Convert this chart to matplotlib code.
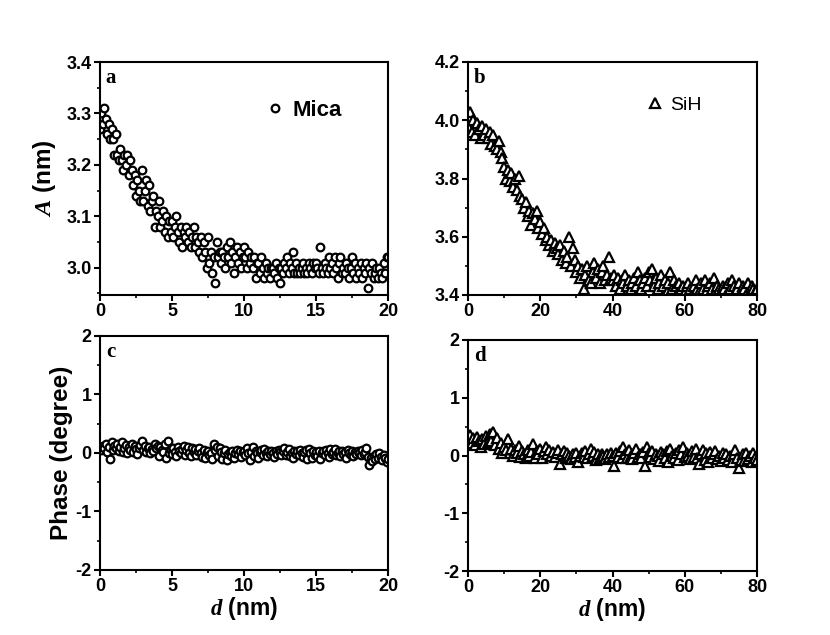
import numpy as np
import matplotlib
matplotlib.use("Agg")
import matplotlib.pyplot as plt
from matplotlib.ticker import MultipleLocator, AutoMinorLocator, FormatStrFormatter

plt.rcParams['font.family'] = ['Liberation Sans', 'DejaVu Sans']
plt.rcParams['font.weight'] = 'bold'
plt.rcParams['axes.unicode_minus'] = False
plt.rcParams['mathtext.fontset'] = 'custom'
plt.rcParams['mathtext.it'] = 'Liberation Serif:italic'
plt.rcParams['mathtext.rm'] = 'Liberation Sans:bold'

# ---------------- data ----------------
mica_d = [round(i * 0.1, 1) for i in range(201)]
mica_amp = [
    3.27, 3.30, 3.28, 3.31, 3.29, 3.26, 3.28, 3.25, 3.27, 3.25,
    3.22, 3.26, 3.22, 3.21, 3.23, 3.21, 3.19, 3.22, 3.20, 3.22,
    3.18, 3.21, 3.19, 3.16, 3.18, 3.14, 3.17, 3.15, 3.13, 3.19,
    3.13, 3.15, 3.17, 3.12, 3.16, 3.11, 3.13, 3.14, 3.08, 3.11,
    3.10, 3.13, 3.08, 3.09, 3.11, 3.07, 3.10, 3.06, 3.09, 3.07,
    3.09, 3.06, 3.08, 3.10, 3.07, 3.05, 3.08, 3.04, 3.07, 3.06,
    3.08, 3.05, 3.07, 3.04, 3.06, 3.08, 3.04, 3.06, 3.05, 3.03,
    3.06, 3.02, 3.05, 3.03, 3.00, 3.06, 3.01, 3.03, 2.99, 3.02,
    2.97, 3.05, 3.02, 3.03, 3.01, 3.03, 3.02, 3.00, 3.04, 3.02,
    3.05, 3.01, 3.03, 2.99, 3.02, 3.04, 3.01, 3.03, 3.00, 3.02,
    3.04, 3.02, 3.00, 3.03, 3.01, 3.02, 3.00, 3.02, 2.98, 3.01,
    3.01, 2.99, 3.02, 3.00, 2.98, 3.01, 2.99, 3.00, 2.98, 3.00,
    3.00, 2.99, 3.01, 2.98, 3.00, 2.97, 3.00, 2.99, 3.01, 3.00,
    3.02, 2.99, 3.01, 3.00, 3.03, 2.99, 3.01, 2.99, 3.00, 2.99,
    3.00, 3.01, 2.99, 3.00, 2.99, 3.01, 3.00, 2.99, 3.01, 3.00,
    3.01, 3.00, 2.99, 3.04, 3.00, 2.99, 3.01, 3.00, 2.99, 3.02,
    3.00, 3.01, 2.99, 3.02, 3.00, 2.98, 3.01, 3.02, 2.99, 3.00,
    2.99, 3.01, 3.00, 2.98, 3.00, 3.02, 2.99, 3.01, 2.98, 3.00,
    2.99, 3.01, 2.98, 3.00, 2.99, 3.01, 2.96, 3.00, 2.99, 3.01,
    2.98, 2.99, 3.00, 2.98, 3.00, 2.99, 2.98, 3.01, 2.99, 3.02,
    3.02,
]
mica_phase = [
    0.10, 0.05, 0.12, 0.08, 0.15, 0.02, 0.10, -0.10, 0.18, 0.05,
    0.12, 0.08, 0.15, 0.04, 0.10, 0.18, 0.02, 0.08, 0.14, 0.00,
    0.10, 0.05, 0.16, 0.02, 0.12, 0.06, -0.02, 0.08, 0.14, 0.20,
    0.05, 0.12, 0.02, 0.08, 0.10, 0.00, 0.06, 0.04, 0.15, 0.08,
    0.12, -0.05, 0.10, 0.05, 0.02, 0.15, -0.08, 0.20, 0.00, 0.05,
    -0.02, 0.08, 0.02, -0.05, 0.10, 0.04, 0.00, 0.06, 0.12, -0.03,
    0.05, 0.10, 0.00, -0.05, 0.08, 0.02, 0.06, -0.04, 0.04, 0.08,
    0.00, -0.06, 0.05, -0.08, 0.02, 0.04, -0.04, 0.00, -0.10, 0.15,
    0.05, 0.10, -0.05, 0.08, 0.02, -0.10, 0.00, 0.05, -0.12, -0.02,
    0.02, -0.05, 0.04, -0.08, 0.00, 0.05, -0.02, 0.03, -0.06, 0.01,
    0.04, -0.03, 0.08, 0.00, -0.12, 0.02, 0.10, -0.05, 0.03, 0.00,
    -0.08, 0.02, 0.05, -0.03, 0.06, 0.00, -0.05, 0.04, -0.02, 0.03,
    0.00, -0.06, 0.04, -0.02, 0.05, 0.01, -0.04, 0.03, 0.08, -0.03,
    0.02, 0.06, -0.05, 0.00, -0.08, 0.04, -0.02, 0.03, -0.04, 0.05,
    0.00, -0.06, 0.02, 0.05, -0.10, 0.06, 0.00, -0.08, 0.04, -0.03,
    0.02, -0.05, 0.04, -0.10, 0.00, 0.03, -0.04, 0.05, 0.00, -0.06,
    0.06, -0.02, 0.02, 0.07, -0.04, 0.00, 0.03, -0.05, 0.04, -0.02,
    0.02, -0.08, 0.05, 0.00, -0.03, 0.04, -0.05, 0.01, -0.02, 0.03,
    0.00, -0.04, 0.05, -0.02, 0.02, 0.08, -0.06, -0.20, -0.08, -0.14,
    -0.05, -0.10, -0.02, -0.08, 0.00, -0.06, -0.12, -0.04, -0.08, -0.16,
    -0.10,
]

sih_d = [i * 0.5 for i in range(161)]
sih_amp = [
    3.98, 4.03, 3.96, 4.00, 3.95, 3.99, 3.97, 3.94, 3.98, 3.95,
    3.97, 3.94, 3.96, 3.92, 3.95, 3.91, 3.90, 3.93, 3.89, 3.87,
    3.84, 3.80, 3.83, 3.79, 3.82, 3.77, 3.80, 3.76, 3.81, 3.74,
    3.73, 3.70, 3.72, 3.67, 3.69, 3.64, 3.68, 3.66, 3.69, 3.63,
    3.65, 3.61, 3.63, 3.59, 3.60, 3.57, 3.59, 3.55, 3.58, 3.56,
    3.54, 3.57, 3.52, 3.55, 3.51, 3.53, 3.60, 3.50, 3.56, 3.52,
    3.48, 3.50, 3.46, 3.49, 3.42, 3.47, 3.50, 3.45, 3.44, 3.48,
    3.51, 3.46, 3.49, 3.44, 3.48, 3.50, 3.45, 3.47, 3.53, 3.46,
    3.45, 3.47, 3.43, 3.46, 3.42, 3.45, 3.44, 3.47, 3.43, 3.45,
    3.42, 3.44, 3.46, 3.43, 3.48, 3.45, 3.42, 3.44, 3.46, 3.43,
    3.48, 3.45, 3.49, 3.43, 3.46, 3.42, 3.44, 3.47, 3.43, 3.45,
    3.41, 3.44, 3.48, 3.42, 3.45, 3.43, 3.41, 3.44, 3.42, 3.43,
    3.41, 3.43, 3.44, 3.42, 3.40, 3.43, 3.45, 3.42, 3.41, 3.44,
    3.42, 3.45, 3.41, 3.43, 3.44, 3.42, 3.46, 3.41, 3.43, 3.42,
    3.41, 3.43, 3.42, 3.40, 3.44, 3.42, 3.45, 3.43, 3.41, 3.42,
    3.44, 3.41, 3.43, 3.42, 3.40, 3.44, 3.41, 3.43, 3.42, 3.41,
    3.42,
]
sih_phase = [
    0.28, 0.35, 0.22, 0.30, 0.18, 0.32, 0.25, 0.15, 0.28, 0.20,
    0.33, 0.22, 0.38, 0.25, 0.40, 0.18, 0.30, 0.12, 0.22, 0.05,
    0.15, 0.10, 0.28, 0.05, 0.12, 0.00, 0.10, 0.04, 0.16, -0.02,
    0.08, 0.02, -0.05, 0.10, 0.00, 0.06, 0.20, -0.04, 0.08, 0.02,
    0.12, -0.05, 0.08, 0.15, 0.02, 0.10, 0.00, 0.06, -0.02, 0.05,
    0.10, -0.15, 0.02, 0.08, -0.04, 0.05, 0.00, -0.06, 0.03, -0.02,
    0.04, -0.12, 0.00, 0.05, -0.03, 0.08, -0.05, 0.02, 0.12, 0.00,
    0.06, -0.08, 0.02, -0.04, 0.03, 0.00, -0.06, 0.02, -0.03, 0.05,
    0.00, -0.18, 0.04, -0.02, 0.08, -0.05, 0.15, 0.02, -0.04, 0.10,
    0.00, -0.06, 0.05, 0.12, -0.03, 0.02, -0.05, 0.06, -0.18, 0.15,
    0.05, -0.02, 0.08, -0.06, 0.03, 0.00, -0.10, 0.06, 0.02, -0.04,
    0.08, -0.12, 0.12, 0.00, -0.05, 0.04, -0.08, 0.10, 0.02, 0.14,
    -0.03, 0.05, 0.00, -0.06, 0.08, -0.02, 0.12, -0.05, -0.15, 0.02,
    0.10, -0.08, 0.04, -0.12, 0.06, -0.04, 0.02, 0.08, -0.06, 0.00,
    -0.10, 0.05, -0.04, 0.02, -0.08, 0.00, -0.12, 0.03, 0.10, -0.05,
    -0.22, -0.08, 0.02, -0.10, 0.04, -0.06, 0.00, -0.12, 0.05, -0.04,
    -0.08,
]

# ---------------- figure ----------------
fig = plt.figure(figsize=(8.3, 6.35), dpi=100)
W, H = 830, 635

def add_ax(l, t, r, b):
    return fig.add_axes([l / W, 1 - b / H, (r - l) / W, (b - t) / H])

ax_a = add_ax(100, 62, 388, 295)
ax_b = add_ax(468, 62, 757, 295)
ax_c = add_ax(100, 336, 388, 570)
ax_d = add_ax(468, 340, 757, 571)

circ = dict(marker='o', ms=5.5, mfc='white', mec='black', mew=1.6, ls='none')
tri = dict(marker='^', ms=7, mfc='white', mec='black', mew=1.6, ls='none')

ax_a.plot(mica_d, mica_amp, label='Mica', **circ)
ax_c.plot(mica_d, mica_phase, **circ)
ax_b.plot(sih_d, sih_amp, label='SiH', **tri)
ax_d.plot(sih_d, sih_phase, **tri)

ax_a.set_xlim(0, 20); ax_a.set_ylim(2.947, 3.4)
ax_c.set_xlim(0, 20); ax_c.set_ylim(-2, 2)
ax_b.set_xlim(0, 80); ax_b.set_ylim(3.4, 4.2)
ax_d.set_xlim(0, 80); ax_d.set_ylim(-2, 2)

ax_a.xaxis.set_major_locator(MultipleLocator(5))
ax_c.xaxis.set_major_locator(MultipleLocator(5))
ax_b.xaxis.set_major_locator(MultipleLocator(20))
ax_d.xaxis.set_major_locator(MultipleLocator(20))
ax_a.yaxis.set_major_locator(MultipleLocator(0.1))
ax_b.yaxis.set_major_locator(MultipleLocator(0.2))
ax_c.yaxis.set_major_locator(MultipleLocator(1))
ax_d.yaxis.set_major_locator(MultipleLocator(1))

for ax in (ax_a, ax_b, ax_c, ax_d):
    ax.xaxis.set_minor_locator(AutoMinorLocator(2))
    ax.yaxis.set_minor_locator(AutoMinorLocator(2))
    ax.tick_params(which='major', direction='out', length=4, width=1.5,
                   labelsize=13, pad=2, top=False, right=False)
    ax.tick_params(which='minor', direction='out', length=2.5, width=1.2,
                   top=False, right=False)
    for s in ax.spines.values():
        s.set_linewidth(1.5)
    for lbl in ax.get_xticklabels() + ax.get_yticklabels():
        lbl.set_fontweight('bold')

ax_a.yaxis.set_major_formatter(FormatStrFormatter('%.1f'))
ax_b.yaxis.set_major_formatter(FormatStrFormatter('%.1f'))

for ax, letter in ((ax_a, 'a'), (ax_b, 'b'), (ax_c, 'c'), (ax_d, 'd')):
    ax.text(0.02, 0.975, letter, transform=ax.transAxes, ha='left', va='top',
            fontsize=15, fontweight='bold', family='Liberation Serif')

ax_a.set_ylabel(r'$\mathit{A}$ (nm)', fontsize=17.5, fontweight='bold', labelpad=6)
ax_c.set_ylabel('Phase (degree)', fontsize=17.5, fontweight='bold', labelpad=2)
ax_c.set_xlabel(r'$\mathit{d}$ (nm)', fontsize=16.5, fontweight='bold', labelpad=0)
ax_d.set_xlabel(r'$\mathit{d}$ (nm)', fontsize=16.5, fontweight='bold', labelpad=0)

ax_a.legend(loc='upper left', bbox_to_anchor=(0.53, 0.885), frameon=False,
            handletextpad=0.3, handlelength=1.0, borderpad=0,
            prop={'family': 'Liberation Sans', 'weight': 'bold', 'size': 16})
ax_b.legend(loc='upper left', bbox_to_anchor=(0.58, 0.895), frameon=False,
            handletextpad=0.3, handlelength=1.0, borderpad=0,
            prop={'family': 'Liberation Sans', 'weight': 'normal', 'size': 14})

fig.savefig('out.png', dpi=100)
